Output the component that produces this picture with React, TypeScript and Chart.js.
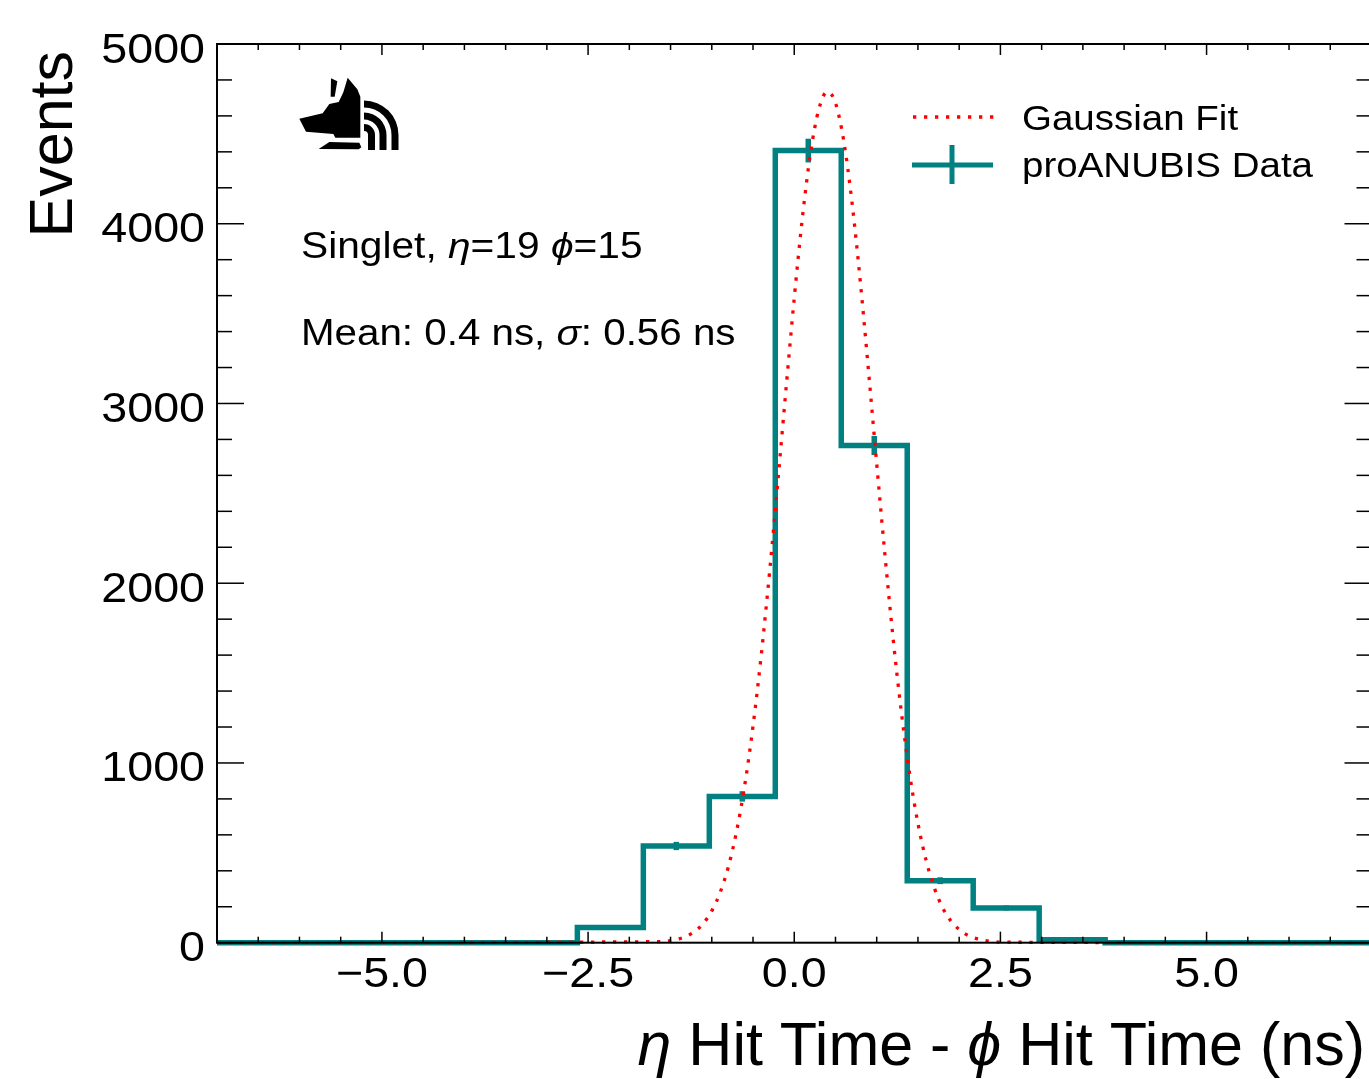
import React, { useEffect, useRef } from "react";
import { Chart, registerables } from "chart.js";

Chart.register(...registerables);

// ---------------- data ----------------
const binEdges = [-2.63, -1.83, -1.03, -0.23, 0.57, 1.37, 2.17, 2.97, 3.77];
const binCounts = [85, 538, 814, 4407, 2766, 345, 193, 17];
const binErrors = [9, 23, 29, 66, 53, 19, 14, 4];

const fitX = [
  -7, -1.6, -1.5, -1.4, -1.3, -1.2, -1.1, -1.0, -0.9, -0.8, -0.7, -0.6, -0.5, -0.4, -0.3, -0.2, -0.1,
  0.0, 0.1, 0.2, 0.3, 0.4, 0.5, 0.6, 0.7, 0.8, 0.9, 1.0, 1.1, 1.2, 1.3, 1.4, 1.5, 1.6, 1.7, 1.8, 1.9,
  2.0, 2.1, 2.2, 2.3, 2.4, 2.5, 7,
];
const fitY = [
  0, 6, 11, 21, 38, 65, 109, 177, 278, 421, 618, 877, 1205, 1601, 2058, 2560, 3080,
  3586, 4039, 4402, 4641, 4734, 4672, 4461, 4120, 3683, 3184, 2664, 2156, 1688, 1278, 937, 664, 456, 303, 194, 121,
  73, 42, 24, 13, 7, 3, 0,
];

const xRange = [-7, 7];
const yRange = [0, 5000];
const xTicks = [-5, -2.5, 0, 2.5, 5];
const xTickLabels = ["\u22125.0", "\u22122.5", "0.0", "2.5", "5.0"];
const yTicks = [0, 1000, 2000, 3000, 4000, 5000];
const yTickLabels = ["0", "1000", "2000", "3000", "4000", "5000"];
const xMinorStep = 0.5;
const yMinorStep = 200;

const legendLabels = ["Gaussian Fit", "proANUBIS Data"];

const TEAL = "#008080";
const RED = "#ff0000";
const FONT = '"Liberation Sans", "DejaVu Sans", Arial, sans-serif';

type Run = { t: string; it?: boolean };

function runsWidth(ctx: CanvasRenderingContext2D, runs: Run[], size: number) {
  let w = 0;
  for (const r of runs) {
    ctx.font = `${r.it ? "italic " : ""}${size}px ${FONT}`;
    w += ctx.measureText(r.t).width;
  }
  return w;
}

function drawRuns(
  ctx: CanvasRenderingContext2D,
  runs: Run[],
  x: number,
  y: number,
  size: number,
  sx: number,
  align: "left" | "right" | "center" = "left",
  rot = 0
) {
  ctx.save();
  ctx.translate(x, y);
  if (rot) ctx.rotate(rot);
  ctx.scale(sx, 1);
  ctx.textAlign = "left";
  ctx.textBaseline = "alphabetic";
  ctx.fillStyle = "#000";
  const w = runsWidth(ctx, runs, size);
  let cx = align === "left" ? 0 : align === "right" ? -w : -w / 2;
  for (const r of runs) {
    ctx.font = `${r.it ? "italic " : ""}${size}px ${FONT}`;
    ctx.fillText(r.t, cx, 0);
    cx += ctx.measureText(r.t).width;
  }
  ctx.restore();
}

const decor = {
  id: "decor",
  beforeDatasetsDraw(chart: any) {
    const ctx: CanvasRenderingContext2D = chart.ctx;
    const xs = chart.scales.x;
    const ys = chart.scales.y;
    ctx.save();
    ctx.strokeStyle = TEAL;
    ctx.lineWidth = 5.5;
    ctx.lineCap = "butt";
    binCounts.forEach((c, i) => {
      const xc = xs.getPixelForValue((binEdges[i] + binEdges[i + 1]) / 2);
      ctx.beginPath();
      ctx.moveTo(xc, ys.getPixelForValue(c - binErrors[i]));
      ctx.lineTo(xc, ys.getPixelForValue(c + binErrors[i]));
      ctx.stroke();
    });
    ctx.restore();
  },
  afterDatasetsDraw(chart: any) {
    const ctx: CanvasRenderingContext2D = chart.ctx;
    const xs = chart.scales.x;
    const ys = chart.scales.y;
    const { left, right, top, bottom } = chart.chartArea;
    ctx.save();

    const line = (x1: number, y1: number, x2: number, y2: number) => {
      ctx.beginPath();
      ctx.moveTo(x1, y1);
      ctx.lineTo(x2, y2);
      ctx.stroke();
    };

    // ticks
    ctx.strokeStyle = "#000";
    ctx.lineWidth = 1.5;
    for (const v of yTicks) {
      const y = ys.getPixelForValue(v);
      line(left, y, left + 27, y);
      line(right, y, right - 27, y);
    }
    for (let v = yRange[0]; v <= yRange[1] + 1e-9; v += yMinorStep) {
      if (yTicks.some((t) => Math.abs(t - v) < 1e-6)) continue;
      const y = ys.getPixelForValue(v);
      line(left, y, left + 15, y);
      line(right, y, right - 15, y);
    }
    for (const v of xTicks) {
      const x = xs.getPixelForValue(v);
      line(x, bottom, x, bottom - 11);
      line(x, top, x, top + 11);
    }
    for (let k = 0; xRange[0] + k * xMinorStep <= xRange[1] + 1e-9; k++) {
      const v = xRange[0] + k * xMinorStep;
      if (xTicks.some((t) => Math.abs(t - v) < 1e-6)) continue;
      const x = xs.getPixelForValue(v);
      line(x, bottom, x, bottom - 6);
      line(x, top, x, top + 6);
    }

    // frame
    ctx.lineWidth = 2;
    ctx.strokeRect(left, top, right - left, bottom - top);

    // tick labels
    yTicks.forEach((v, i) => {
      drawRuns(ctx, [{ t: yTickLabels[i] }], left - 12, ys.getPixelForValue(v) + 18.5, 42, 1.11, "right");
    });
    xTicks.forEach((v, i) => {
      drawRuns(ctx, [{ t: xTickLabels[i] }], xs.getPixelForValue(v), bottom + 44.6, 42, 1.11, "center");
    });

    // axis titles
    drawRuns(
      ctx,
      [{ t: "\u03b7", it: true }, { t: " Hit Time - " }, { t: "\u03d5", it: true }, { t: " Hit Time (ns)" }],
      1365,
      1065,
      61,
      1,
      "right"
    );
    drawRuns(ctx, [{ t: "Events" }], 72, top + 7, 61, 1, "right", -Math.PI / 2);

    // annotations
    drawRuns(
      ctx,
      [{ t: "Singlet, " }, { t: "\u03b7", it: true }, { t: "=19 " }, { t: "\u03d5", it: true }, { t: "=15" }],
      left + 84,
      top + 214,
      36,
      1.13
    );
    drawRuns(
      ctx,
      [{ t: "Mean: 0.4 ns, " }, { t: "\u03c3", it: true }, { t: ": 0.56 ns" }],
      left + 84,
      top + 301,
      36,
      1.12
    );

    // legend
    ctx.strokeStyle = RED;
    ctx.lineWidth = 3.3;
    ctx.setLineDash([3.3, 7.7]);
    line(913, 117, 995, 117);
    ctx.setLineDash([]);
    ctx.strokeStyle = TEAL;
    ctx.lineWidth = 5;
    line(912, 165, 993, 165);
    line(952, 145, 952, 184);
    drawRuns(ctx, [{ t: legendLabels[0] }], 1022, 130, 35, 1.1);
    drawRuns(ctx, [{ t: legendLabels[1] }], 1022, 177, 35, 1.1);

    // logo (decorative)
    const L = (x: number, y: number): [number, number] => [left + 63 + x / 3, top + 16 + y / 3];
    ctx.fillStyle = "#000";
    const poly = (pts: number[][]) => {
      ctx.beginPath();
      pts.forEach(([x, y], i) => {
        const [px, py] = L(x, y);
        if (i) ctx.lineTo(px, py);
        else ctx.moveTo(px, py);
      });
      ctx.closePath();
      ctx.fill();
    };
    poly([[153, 55], [172, 64], [164, 110], [152, 110]]);
    poly([
      [203, 53], [232, 88], [241, 110], [241, 233], [166, 233], [160, 222], [78, 215],
      [58, 176], [128, 160], [148, 132], [176, 126], [190, 97],
    ]);
    poly([[116, 267], [148, 246], [238, 248], [244, 262], [236, 268]]);
    const [cx, cy] = L(252, 225);
    const yb = L(0, 270)[1];
    const rings = [[4, 11], [15.5, 22.5], [27.5, 34.5]];
    for (const [ri, ro] of rings) {
      ctx.beginPath();
      ctx.moveTo(cx, cy - ro);
      ctx.arc(cx, cy, ro, -Math.PI / 2, 0);
      ctx.lineTo(cx + ro, yb);
      ctx.lineTo(cx + ri, yb);
      ctx.lineTo(cx + ri, cy);
      ctx.arc(cx, cy, ri, 0, -Math.PI / 2, true);
      ctx.closePath();
      ctx.fill();
    }

    ctx.restore();
  },
};

export default function App() {
  const ref = useRef<HTMLCanvasElement | null>(null);

  useEffect(() => {
    const canvas = ref.current;
    if (!canvas) return;

    const histPoints: { x: number; y: number }[] = [{ x: xRange[0], y: 0 }];
    binCounts.forEach((c, i) => histPoints.push({ x: binEdges[i], y: c }));
    histPoints.push({ x: binEdges[binEdges.length - 1], y: 0 });
    histPoints.push({ x: xRange[1], y: 0 });

    const chart = new Chart(canvas, {
      type: "line",
      data: {
        datasets: [
          {
            label: legendLabels[0],
            data: fitX.map((x, i) => ({ x, y: fitY[i] })),
            borderColor: RED,
            borderWidth: 3.3,
            borderDash: [3.3, 7.7],
            borderCapStyle: "butt",
            pointRadius: 0,
            fill: false,
            cubicInterpolationMode: "monotone",
            clip: { left: 0, top: 0, right: 0, bottom: 4 },
          } as any,
          {
            label: legendLabels[1],
            data: histPoints,
            stepped: true,
            borderColor: TEAL,
            borderWidth: 5.5,
            borderCapStyle: "butt",
            borderJoinStyle: "miter",
            pointRadius: 0,
            fill: false,
            clip: { left: 0, top: 0, right: 0, bottom: 4 },
          } as any,
        ],
      },
      options: {
        responsive: false,
        animation: false,
        devicePixelRatio: 1,
        events: [],
        layout: { padding: { left: 0, top: 44, right: 8.5, bottom: 0 } },
        plugins: { legend: { display: false }, tooltip: { enabled: false } },
        scales: {
          x: {
            type: "linear",
            min: xRange[0],
            max: xRange[1],
            grid: { display: false },
            border: { display: false },
            ticks: { display: false },
            afterFit(s: any) {
              s.height = 136.3;
            },
          },
          y: {
            type: "linear",
            min: yRange[0],
            max: yRange[1],
            grid: { display: false },
            border: { display: false },
            ticks: { display: false },
            afterFit(s: any) {
              s.width = 217;
            },
          },
        },
      } as any,
      plugins: [decor as any],
    });

    return () => chart.destroy();
  }, []);

  return (
    <div
      style={{
        position: "fixed",
        left: 0,
        top: 0,
        width: 1369,
        height: 1079,
        overflow: "hidden",
        background: "#fff",
      }}
    >
      <canvas ref={ref} width={1380} height={1079} style={{ display: "block" }} />
    </div>
  );
}
